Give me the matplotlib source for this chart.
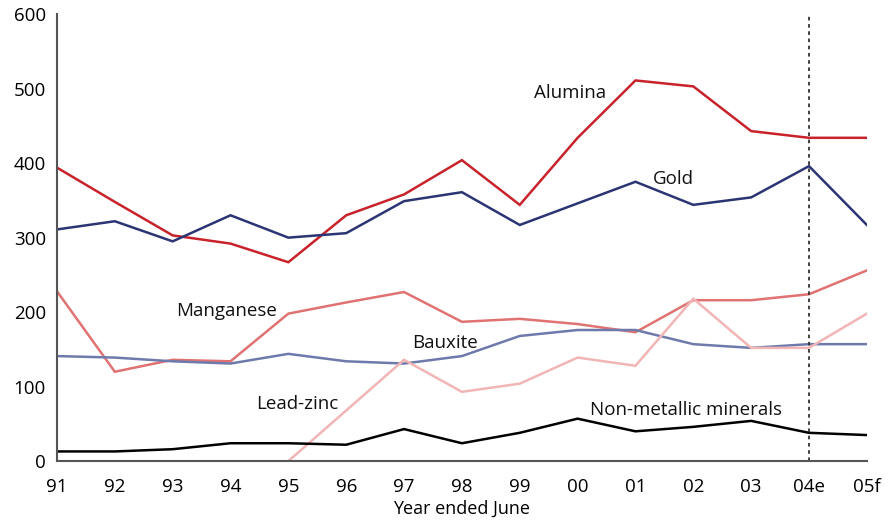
import matplotlib
matplotlib.use("Agg")
import matplotlib.pyplot as plt

plt.rcParams['font.family'] = ['Open Sans', 'DejaVu Sans']

years = ["91", "92", "93", "94", "95", "96", "97", "98", "99", "00", "01", "02", "03", "04e", "05f"]
alumina = [394, 348, 303, 292, 267, 330, 358, 404, 344, 434, 511, 503, 443, 434, 434]
gold = [311, 322, 295, 330, 300, 306, 349, 361, 317, 346, 375, 344, 354, 396, 317]
manganese = [228, 120, 136, 134, 198, 213, 227, 187, 191, 184, 173, 216, 216, 224, 256]
bauxite = [141, 139, 134, 131, 144, 134, 131, 141, 168, 176, 176, 157, 152, 157, 157]
lead_zinc = [None, None, None, None, 0, 68, 136, 93, 104, 139, 128, 218, 152, 152, 198]
non_metallic = [13, 13, 16, 24, 24, 22, 43, 24, 38, 57, 40, 46, 54, 38, 35]

series = [
    ("Alumina", alumina, "#c8222b", (8.87, 494)),
    ("Gold", gold, "#2b3574", (10.66, 379)),
    ("Manganese", manganese, "#e07272", (2.94, 202)),
    ("Bauxite", bauxite, "#6d7aab", (6.7, 159)),
    ("Lead-zinc", lead_zinc, "#f2b5b5", (4.15, 77)),
    ("Non-metallic minerals", non_metallic, "#000000", (10.87, 69)),
]

fig = plt.figure(figsize=(8.9, 5.24), dpi=100)
ax = fig.add_axes([0.064, 0.120, 0.910, 0.853])
x = list(range(len(years)))
for name, vals, col, (tx, ty) in series:
    xs = [xi for xi, v in zip(x, vals) if v is not None]
    vs = [v for v in vals if v is not None]
    ax.plot(xs, vs, color=col, lw=1.8, solid_joinstyle='miter')
    ax.text(tx, ty, name, ha='center', va='center', fontsize=13.5, color='#111111')

ax.axvline(years.index("04e"), color='#333333', lw=1.3, ls=(0, (2, 2)))

ax.set_xlim(0, len(years) - 1)
ax.set_ylim(0, 600)
ax.set_xticks(x)
ax.set_xticklabels(years)
ax.set_yticks(range(0, 601, 100))
ax.tick_params(length=0, labelsize=13.5)
ax.tick_params(axis='y', pad=8)
ax.tick_params(axis='x', pad=12)
ax.spines['top'].set_visible(False)
ax.spines['right'].set_visible(False)
for s in ('left', 'bottom'):
    ax.spines[s].set_color('#555555')
    ax.spines[s].set_linewidth(1.5)
ax.set_xlabel("Year ended June", fontsize=13, labelpad=3)

fig.savefig("out.png", dpi=100)
